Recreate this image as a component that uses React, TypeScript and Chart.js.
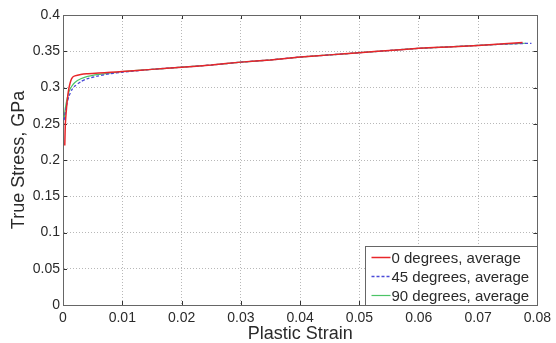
import React, { useEffect, useRef } from "react";
import { Chart, registerables } from "chart.js";

Chart.register(...registerables);

const strain0 = [0.0003, 0.0004, 0.0006, 0.0008, 0.001, 0.0013, 0.0016, 0.002, 0.003, 0.004, 0.006, 0.008, 0.01, 0.015, 0.02, 0.025, 0.03, 0.035, 0.04, 0.045, 0.05, 0.055, 0.06, 0.065, 0.07, 0.0775];
const stress0 = [0.22, 0.25, 0.272, 0.288, 0.299, 0.309, 0.314, 0.316, 0.318, 0.319, 0.32, 0.321, 0.322, 0.325, 0.328, 0.331, 0.335, 0.338, 0.342, 0.345, 0.348, 0.351, 0.354, 0.356, 0.358, 0.362];

const strain45 = [0.0002, 0.0004, 0.0007, 0.001, 0.0015, 0.002, 0.003, 0.004, 0.006, 0.008, 0.01, 0.015, 0.02, 0.025, 0.03, 0.035, 0.04, 0.045, 0.05, 0.055, 0.06, 0.065, 0.07, 0.075, 0.079];
const stress45 = [0.255, 0.266, 0.279, 0.288, 0.297, 0.302, 0.308, 0.312, 0.316, 0.319, 0.321, 0.325, 0.328, 0.331, 0.335, 0.338, 0.342, 0.345, 0.348, 0.351, 0.354, 0.356, 0.358, 0.36, 0.361];

const strain90 = [0.0002, 0.0004, 0.0007, 0.001, 0.0015, 0.002, 0.003, 0.004, 0.006, 0.008, 0.01, 0.015, 0.02, 0.025, 0.03, 0.035, 0.04, 0.045, 0.05, 0.055, 0.06, 0.065, 0.07, 0.075, 0.078];
const stress90 = [0.258, 0.272, 0.285, 0.294, 0.302, 0.307, 0.312, 0.315, 0.318, 0.32, 0.322, 0.325, 0.328, 0.331, 0.335, 0.338, 0.342, 0.345, 0.348, 0.351, 0.354, 0.356, 0.358, 0.36, 0.361];

const seriesLabels = ["0 degrees, average", "45 degrees, average", "90 degrees, average"];
const xTicks = [0, 0.01, 0.02, 0.03, 0.04, 0.05, 0.06, 0.07, 0.08];
const yTicks = [0, 0.05, 0.1, 0.15, 0.2, 0.25, 0.3, 0.35, 0.4];

const FONT = "'Liberation Sans', Arial, Helvetica, sans-serif";
const TEXT = "#2a2a2a";

function toPoints(xs: number[], ys: number[]) {
  return xs.map((x, i) => ({ x, y: ys[i] }));
}

const framePlugin = {
  id: "frame",
  beforeDatasetsDraw(chart: any) {
    const { ctx, chartArea: a, scales } = chart;
    ctx.save();
    ctx.strokeStyle = "#333";
    ctx.lineWidth = 1;
    ctx.beginPath();
    xTicks.forEach((t) => {
      const px = Math.round(scales.x.getPixelForValue(t)) + 0.5;
      ctx.moveTo(px, a.bottom);
      ctx.lineTo(px, a.bottom - 4);
      ctx.moveTo(px, a.top);
      ctx.lineTo(px, a.top + 4);
    });
    yTicks.forEach((t) => {
      const py = Math.round(scales.y.getPixelForValue(t)) + 0.5;
      ctx.moveTo(a.left, py);
      ctx.lineTo(a.left + 4, py);
      ctx.moveTo(a.right, py);
      ctx.lineTo(a.right - 4, py);
    });
    ctx.stroke();
    ctx.strokeStyle = "#666";
    ctx.strokeRect(Math.round(a.left) + 0.5, Math.round(a.top) + 0.5, Math.round(a.right - a.left), Math.round(a.bottom - a.top));
    ctx.restore();
  },
  afterDraw(chart: any) {
    const { ctx, chartArea: a } = chart;
    ctx.save();
    const w = 172, h = 59;
    const lx = Math.round(a.right) - w + 0.5;
    const ly = Math.round(a.bottom) - h + 0.5;
    ctx.fillStyle = "#fff";
    ctx.fillRect(lx, ly, w, h);
    ctx.strokeStyle = "#666";
    ctx.lineWidth = 1;
    ctx.strokeRect(lx, ly, w, h);
    ctx.font = "15px " + FONT;
    ctx.textBaseline = "middle";
    chart.data.datasets.forEach((ds: any, i: number) => {
      const y = ly + 11 + i * 19;
      ctx.strokeStyle = ds.borderColor;
      ctx.lineWidth = ds.borderWidth;
      ctx.setLineDash(ds.borderDash || []);
      ctx.beginPath();
      ctx.moveTo(lx + 6, y);
      ctx.lineTo(lx + 25, y);
      ctx.stroke();
      ctx.setLineDash([]);
      ctx.fillStyle = TEXT;
      ctx.fillText(ds.label, lx + 26, y + 1);
    });
    ctx.restore();
  },
};

export default function App() {
  const ref = useRef<HTMLCanvasElement>(null);
  useEffect(() => {
    if (!ref.current) return;
    const chart = new Chart(ref.current, {
      type: "line",
      data: {
        datasets: [
          { label: seriesLabels[0], data: toPoints(strain0, stress0), borderColor: "#e8262a", borderWidth: 1.5, pointRadius: 0, tension: 0.2, fill: false },
          { label: seriesLabels[1], data: toPoints(strain45, stress45), borderColor: "#4a4ad8", borderWidth: 1.3, borderDash: [3, 2], pointRadius: 0, tension: 0.2, fill: false },
          { label: seriesLabels[2], data: toPoints(strain90, stress90), borderColor: "#4cc466", borderWidth: 1.2, pointRadius: 0, tension: 0.2, fill: false },
        ],
      },
      options: {
        animation: false,
        responsive: false,
        maintainAspectRatio: false,
        layout: { padding: { top: 15, right: 15, left: 0, bottom: 0 } },
        plugins: { legend: { display: false }, tooltip: { enabled: false } },
        scales: {
          x: {
            type: "linear",
            min: 0,
            max: 0.08,
            afterBuildTicks: (s: any) => { s.ticks = xTicks.map((v) => ({ value: v })); },
            afterFit: (s: any) => { s.height = 38; },
            ticks: { color: TEXT, font: { family: FONT, size: 14 }, padding: 5, maxRotation: 0, callback: (v: any) => String(Number(v)) },
            grid: { color: "#b8b8b8", drawTicks: false },
            border: { display: true, color: "#666", dash: [1, 2] },
            title: { display: true, text: "Plastic Strain", color: TEXT, font: { family: FONT, size: 18, lineHeight: 1 }, padding: { top: 0, bottom: 0 } },
          },
          y: {
            type: "linear",
            min: 0,
            max: 0.4,
            afterBuildTicks: (s: any) => { s.ticks = yTicks.map((v) => ({ value: v })); },
            afterFit: (s: any) => { s.width = 63; },
            ticks: { color: TEXT, font: { family: FONT, size: 14 }, padding: 3, callback: (v: any) => String(Number(v)) },
            grid: { color: "#b8b8b8", drawTicks: false },
            border: { display: true, color: "#666", dash: [1, 2] },
            title: { display: true, text: "True Stress, GPa", color: TEXT, font: { family: FONT, size: 18 }, padding: { top: 8, bottom: 4 } },
          },
        },
      },
      plugins: [framePlugin],
    } as any);
    return () => chart.destroy();
  }, []);
  return (
    <div style={{ position: "absolute", left: 0, top: 0, width: 556, height: 343, background: "#fff" }}>
      <canvas ref={ref} width={556} height={343} style={{ width: 556, height: 343 }} />
    </div>
  );
}
